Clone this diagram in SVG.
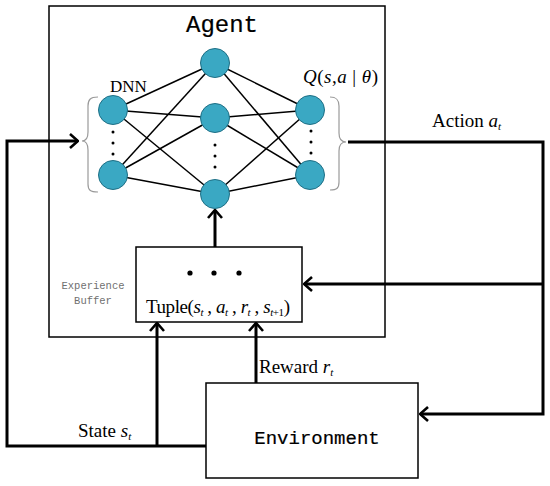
<svg xmlns="http://www.w3.org/2000/svg" width="550" height="486" viewBox="0 0 550 486">
<style>
.box{fill:#fff;stroke:#000;stroke-width:1.5}
.conn{fill:none;stroke:#000;stroke-width:3}
.edge{stroke:#000;stroke-width:1.5}
.node{fill:#3aa8c3;stroke:#1f6f85;stroke-width:1}
.dot{fill:#000}
.brace{fill:none;stroke:#9a9a9a;stroke-width:1.2}
.serif{font-family:"Liberation Serif","Times New Roman",serif;fill:#000}
.mono{font-family:"Liberation Mono","Courier New",monospace}
.heavy{stroke:#000;stroke-width:0.2}
.it{font-style:italic}
</style>
<defs>
<marker id="arr" viewBox="0 0 10 16" refX="9" refY="8" markerWidth="10" markerHeight="16" markerUnits="userSpaceOnUse" orient="auto">
<path d="M1,1 L9,8 L1,15" fill="none" stroke="#000" stroke-width="2.6"/>
</marker>
</defs>
<rect width="550" height="486" fill="#fff"/>

<g id="agent">
<rect class="box" x="49" y="6" width="336" height="331"/>
<text class="mono heavy" x="222" y="32" font-size="24" text-anchor="middle" fill="#000">Agent</text>
</g>

<g id="dnn">
<g id="edges">
<line class="edge" x1="113" y1="110" x2="215" y2="63"/>
<line class="edge" x1="113" y1="110" x2="215" y2="118"/>
<line class="edge" x1="113" y1="110" x2="215" y2="194"/>
<line class="edge" x1="113" y1="175" x2="215" y2="63"/>
<line class="edge" x1="113" y1="175" x2="215" y2="118"/>
<line class="edge" x1="113" y1="175" x2="215" y2="194"/>
<line class="edge" x1="215" y1="63" x2="310" y2="110"/>
<line class="edge" x1="215" y1="63" x2="310" y2="175"/>
<line class="edge" x1="215" y1="118" x2="310" y2="110"/>
<line class="edge" x1="215" y1="118" x2="310" y2="175"/>
<line class="edge" x1="215" y1="194" x2="310" y2="110"/>
<line class="edge" x1="215" y1="194" x2="310" y2="175"/>
</g>
<g id="in-top"><circle class="node" cx="113" cy="110" r="14.5"/></g>
<g id="in-bottom"><circle class="node" cx="113" cy="175" r="14.5"/></g>
<g id="hid-top"><circle class="node" cx="215" cy="63" r="14.5"/></g>
<g id="hid-mid"><circle class="node" cx="215" cy="118" r="14.5"/></g>
<g id="hid-bottom"><circle class="node" cx="215" cy="194" r="14.5"/></g>
<g id="out-top"><circle class="node" cx="310" cy="110" r="14.5"/></g>
<g id="out-bottom"><circle class="node" cx="310" cy="175" r="14.5"/></g>
<g id="dots">
<circle class="dot" cx="113" cy="132" r="1.5"/><circle class="dot" cx="113" cy="143" r="1.5"/><circle class="dot" cx="113" cy="154" r="1.5"/>
<circle class="dot" cx="215" cy="145" r="1.5"/><circle class="dot" cx="215" cy="156" r="1.5"/><circle class="dot" cx="215" cy="167" r="1.5"/>
<circle class="dot" cx="311" cy="131" r="1.5"/><circle class="dot" cx="311" cy="142" r="1.5"/><circle class="dot" cx="311" cy="153" r="1.5"/>
</g>
<path class="brace" d="M98,97 C90,97 88,100 88,106 V132 C88,138 86,141 82,141 C86,141 88,144 88,150 V184 C88,190 90,192 98,192"/>
<path class="brace" d="M330,97 C337,97 339,100 339,106 V133 C339,139 341,142 346,142 C341,142 339,145 339,151 V182 C339,188 337,190 330,190"/>
<text class="serif" x="110" y="92" font-size="17">DNN</text>
<text class="serif" x="303" y="83" font-size="19" textLength="75" lengthAdjust="spacing"><tspan class="it">Q</tspan>(<tspan class="it">s</tspan>,<tspan class="it">a</tspan> | <tspan class="it">θ</tspan>)</text>
</g>

<g id="buffer">
<text class="mono" x="93" y="289" font-size="10.5" fill="#707070" text-anchor="middle">Experience</text>
<text class="mono" x="93" y="304" font-size="10.5" fill="#707070" text-anchor="middle">Buffer</text>
</g>

<g id="tuple">
<rect class="box" x="136" y="247" width="166" height="75"/>
<circle class="dot" cx="190" cy="273" r="2.6"/>
<circle class="dot" cx="214" cy="273" r="2.6"/>
<circle class="dot" cx="239" cy="273" r="2.6"/>
<text class="serif" x="146" y="313" font-size="19" textLength="144" lengthAdjust="spacing">Tuple(<tspan class="it">s</tspan><tspan class="it" font-size="11" dy="3">t</tspan><tspan dy="-3"> , </tspan><tspan class="it">a</tspan><tspan class="it" font-size="11" dy="3">t</tspan><tspan dy="-3"> , </tspan><tspan class="it">r</tspan><tspan class="it" font-size="11" dy="3">t</tspan><tspan dy="-3"> , </tspan><tspan class="it">s</tspan><tspan class="it" font-size="11" dy="3">t</tspan><tspan font-size="11">+1</tspan><tspan dy="-3">)</tspan></text>
</g>

<g id="environment">
<rect class="box" x="206" y="383" width="212" height="95"/>
<text class="mono heavy" x="317" y="444" font-size="19" text-anchor="middle" fill="#000">Environment</text>
</g>

<g id="connectors">
<path class="conn" d="M206,446 H7 V141 H78" marker-end="url(#arr)"/>
<path class="conn" d="M157,446 V323" marker-end="url(#arr)"/>
<path class="conn" d="M256,383 V323" marker-end="url(#arr)"/>
<path class="conn" d="M348,142 H543 V414 H420" marker-end="url(#arr)"/>
<path class="conn" d="M543,284 H304" marker-end="url(#arr)"/>
<path class="conn" d="M215,247 V210" marker-end="url(#arr)"/>
</g>

<g id="labels">
<text class="serif" x="432" y="127" font-size="19">Action <tspan class="it">a</tspan><tspan class="it" font-size="11" dy="3">t</tspan></text>
<text class="serif" x="259" y="373" font-size="19">Reward <tspan class="it">r</tspan><tspan class="it" font-size="11" dy="3">t</tspan></text>
<text class="serif" x="78" y="437" font-size="19">State <tspan class="it">s</tspan><tspan class="it" font-size="11" dy="3">t</tspan></text>
</g>
</svg>
